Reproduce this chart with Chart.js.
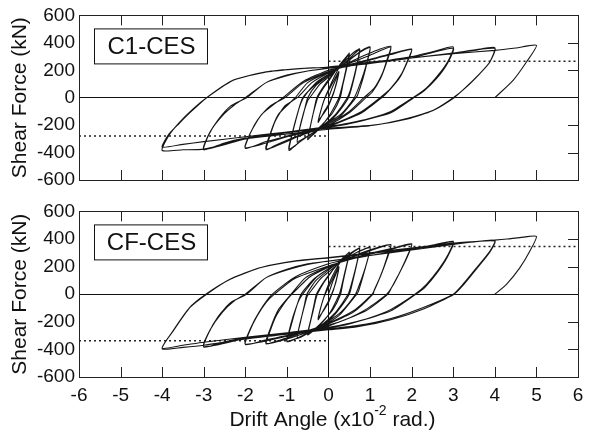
<!DOCTYPE html>
<html>
<head>
<meta charset="utf-8">
<script src="https://cdn.jsdelivr.net/npm/chart.js@4/dist/chart.umd.min.js"></script>
<style>
  body { margin: 0; background: #fff; }
  #wrap { position: relative; width: 592px; height: 431px; background: #fff; }
  canvas { position: absolute; left: 0; }
  #c1 { top: 0; }
  #c2 { top: 196px; }
</style>
</head>
<body>
<div id="wrap">
  <canvas id="c1" width="592" height="196"></canvas>
  <canvas id="c2" width="592" height="235"></canvas>
</div>
<script>
// specimen labels
var specimens = ["C1-CES", "CF-CES"];

// C1-CES hysteresis path: [drift (x10^-2 rad), shear (kN)]
var c1Path = [
  [0,0],[0.1,80],[0.2,150],[0.25,185],[0.2,120],[0.12,30],[0.08,0],[0,-60],[-0.1,-110],[-0.2,-150],[-0.25,-175],[-0.2,-110],[-0.12,-30],[-0.08,0],
  [0,50],[0.12,120],[0.25,190],[0.18,90],[0.1,20],[0,-50],[-0.12,-110],[-0.25,-180],[-0.18,-90],[-0.1,-10],
  [0,60],[0.15,160],[0.3,240],[0.45,300],[0.5,325],[0.45,250],[0.38,150],[0.3,50],[0.25,0],[0.1,-90],[0,-140],[-0.15,-200],[-0.3,-250],[-0.45,-290],[-0.5,-305],[-0.45,-230],[-0.38,-130],[-0.3,-40],[-0.26,0],
  [-0.1,80],[0,120],[0.2,210],[0.35,270],[0.5,320],[0.44,220],[0.35,100],[0.28,0],[0.1,-110],[-0.1,-180],[-0.3,-240],[-0.5,-300],[-0.43,-200],[-0.35,-90],[-0.28,0],
  [-0.1,90],[0.1,170],[0.3,240],[0.5,300],[0.65,340],[0.75,355],[0.7,270],[0.62,160],[0.52,50],[0.45,0],[0.2,-110],[0,-170],[-0.25,-230],[-0.5,-280],[-0.75,-320],[-0.7,-230],[-0.6,-110],[-0.5,-20],[-0.45,0],
  [-0.2,100],[0,150],[0.3,230],[0.55,300],[0.75,350],[0.68,230],[0.58,100],[0.48,0],[0.2,-120],[0,-180],[-0.4,-260],[-0.75,-330],[-0.68,-210],[-0.57,-80],[-0.5,0],
  [-0.3,90],[0,160],[0.3,230],[0.6,300],[0.8,345],[1,370],[0.95,290],[0.85,180],[0.72,70],[0.62,0],[0.3,-120],[0,-180],[-0.3,-240],[-0.6,-300],[-0.8,-350],[-0.95,-385],[-0.9,-300],[-0.8,-180],[-0.7,-70],[-0.6,0],
  [-0.3,110],[0,170],[0.4,250],[0.7,320],[1,365],[0.93,260],[0.82,130],[0.7,20],[0.66,0],[0.3,-130],[0,-190],[-0.5,-280],[-0.95,-375],[-0.88,-270],[-0.75,-120],[-0.62,0],
  [-0.3,100],[0,170],[0.4,240],[0.8,300],[1.2,350],[1.5,375],[1.42,290],[1.3,180],[1.1,70],[0.85,0],[0.5,-100],[0,-190],[-0.5,-250],[-1,-310],[-1.3,-350],[-1.5,-380],[-1.42,-290],[-1.28,-170],[-1.05,-60],[-0.75,0],
  [-0.4,110],[0,180],[0.5,250],[1,310],[1.5,370],[1.4,260],[1.25,140],[1.05,40],[0.9,0],[0.5,-110],[0,-200],[-0.7,-280],[-1.5,-375],[-1.4,-260],[-1.2,-120],[-0.8,0],
  [-0.5,110],[0,185],[0.5,240],[1,280],[1.5,320],[2,355],[1.9,270],[1.75,170],[1.5,70],[1.24,0],[0.8,-100],[0.3,-170],[0,-200],[-0.5,-240],[-1,-280],[-1.5,-320],[-2,-370],[-1.88,-260],[-1.7,-160],[-1.4,-60],[-1.05,0],
  [-0.6,110],[0,190],[0.5,235],[1,275],[1.5,315],[2,350],[1.88,250],[1.7,140],[1.45,50],[1.28,0],[0.8,-110],[0,-210],[-1,-285],[-2,-365],[-1.85,-240],[-1.6,-120],[-1.1,0],
  [-0.6,120],[0,200],[0.5,230],[1,250],[1.5,275],[2,300],[2.5,335],[3,370],[2.88,270],[2.65,170],[2.35,70],[2.03,0],[1.5,-100],[1,-150],[0.5,-185],[0,-210],[-1,-250],[-2,-295],[-2.5,-330],[-3,-380],[-2.88,-270],[-2.65,-160],[-2.35,-60],[-1.97,0],
  [-1.5,110],[-1,160],[-0.5,195],[0,215],[1,250],[2,290],[3,360],[2.86,250],[2.6,140],[2.3,50],[2.05,0],[1.5,-110],[0.5,-190],[0,-215],[-1,-255],[-2,-300],[-3,-375],[-2.85,-250],[-2.55,-130],[-2.25,-50],[-2,0],
  [-1.5,110],[-1,165],[-0.5,195],[0,215],[1,250],[2,290],[3,325],[3.5,345],[4,365],[3.88,260],[3.64,176],[3.32,79],[3,0],[2.52,-91],[1.88,-151],[1.08,-200],[0,-222],[-1,-250],[-2,-285],[-3,-320],[-3.5,-340],[-4,-360],[-3.85,-270],[-3.6,-190],[-3.3,-100],[-2.93,0],
  [-2.3,127],[-1.5,188],[-0.7,212],[0,222],[1,255],[2,290],[3,325],[4,360],[3.87,255],[3.62,170],[3.3,75],[3.02,0],[2.5,-95],[1.9,-155],[1,-205],[0,-230],[-1,-265],[-2,-300],[-3,-375],[-3.5,-380],[-4,-385],[-3.85,-280],[-3.6,-185],[-3.25,-80],[-2.93,0],
  [-2.29,127],[-1.49,188],[-0.69,212],[0,224],[1,260],[2,290],[3,321],[4,345],[4.5,362],[5,382],[4.76,260],[4.44,127],[4,0]
];

// CF-CES hysteresis path
var cfPath = [
  [0,0],[0.1,90],[0.2,160],[0.25,195],[0.2,120],[0.12,30],[0.08,0],[0,-60],[-0.1,-110],[-0.2,-155],[-0.25,-180],[-0.2,-110],[-0.12,-30],[-0.08,0],
  [0,50],[0.12,125],[0.25,200],[0.18,90],[0.1,20],[0,-50],[-0.12,-115],[-0.25,-185],[-0.18,-90],[-0.1,-10],
  [0,70],[0.15,165],[0.3,240],[0.45,290],[0.5,305],[0.45,230],[0.37,130],[0.3,40],[0.26,0],[0.1,-100],[0,-150],[-0.15,-205],[-0.3,-250],[-0.45,-285],[-0.5,-295],[-0.45,-220],[-0.37,-120],[-0.3,-30],[-0.27,0],
  [-0.1,90],[0,130],[0.2,215],[0.35,265],[0.5,300],[0.44,210],[0.35,90],[0.29,0],[0.1,-115],[-0.1,-185],[-0.3,-245],[-0.5,-290],[-0.43,-190],[-0.35,-80],[-0.29,0],
  [-0.1,95],[0.1,175],[0.3,240],[0.5,290],[0.65,320],[0.75,335],[0.7,250],[0.62,150],[0.52,40],[0.47,0],[0.2,-120],[0,-180],[-0.25,-240],[-0.5,-285],[-0.75,-320],[-0.7,-230],[-0.6,-110],[-0.52,-20],[-0.48,0],
  [-0.2,110],[0,160],[0.3,235],[0.55,295],[0.75,330],[0.68,220],[0.58,90],[0.5,0],[0.2,-130],[0,-190],[-0.4,-265],[-0.75,-320],[-0.68,-210],[-0.58,-80],[-0.52,0],
  [-0.3,100],[0,175],[0.3,240],[0.6,290],[0.8,320],[1,340],[0.95,260],[0.85,160],[0.72,50],[0.65,0],[0.3,-130],[0,-195],[-0.3,-250],[-0.6,-295],[-0.8,-325],[-1,-345],[-0.95,-270],[-0.85,-160],[-0.72,-50],[-0.62,0],
  [-0.3,120],[0,185],[0.4,255],[0.7,305],[1,335],[0.93,240],[0.82,120],[0.72,20],[0.68,0],[0.3,-140],[0,-205],[-0.5,-285],[-1,-340],[-0.92,-250],[-0.8,-120],[-0.66,0],
  [-0.35,110],[0,185],[0.4,250],[0.8,300],[1.2,340],[1.5,360],[1.42,280],[1.3,170],[1.15,60],[1.05,0],[0.6,-120],[0,-210],[-0.5,-265],[-1,-315],[-1.3,-345],[-1.5,-360],[-1.42,-280],[-1.28,-170],[-1.05,-60],[-0.88,0],
  [-0.45,125],[0,195],[0.5,260],[1,315],[1.5,358],[1.4,250],[1.25,130],[1.1,30],[1.07,0],[0.6,-130],[0,-215],[-0.7,-295],[-1.5,-358],[-1.4,-250],[-1.2,-110],[-0.9,0],
  [-0.55,120],[0,200],[0.5,255],[1,295],[1.5,330],[2,365],[1.9,280],[1.75,180],[1.58,80],[1.4,0],[0.9,-110],[0.4,-185],[0,-225],[-0.5,-265],[-1,-300],[-1.5,-330],[-2,-365],[-1.9,-270],[-1.72,-160],[-1.5,-60],[-1.3,0],
  [-0.8,115],[0,205],[0.5,250],[1,290],[1.5,325],[2,362],[1.88,260],[1.7,150],[1.52,50],[1.43,0],[0.9,-120],[0,-230],[-1,-305],[-2,-362],[-1.88,-250],[-1.65,-120],[-1.35,0],
  [-0.8,125],[0,220],[0.5,255],[1,280],[1.5,305],[2,330],[2.5,355],[3,383],[2.88,290],[2.65,180],[2.35,70],[2.08,0],[1.5,-110],[1,-170],[0.5,-210],[0,-240],[-1,-280],[-2,-315],[-2.5,-345],[-3,-384],[-2.88,-280],[-2.65,-160],[-2.35,-60],[-1.97,0],
  [-1.5,120],[-1,180],[-0.5,220],[0,240],[1,280],[2,325],[3,378],[2.86,270],[2.6,150],[2.32,50],[2.1,0],[1.5,-120],[0.5,-215],[0,-245],[-1,-285],[-2,-320],[-3,-380],[-2.85,-260],[-2.55,-130],[-2.25,-45],[-2,0],
  [-1.5,120],[-1,175],[-0.5,215],[0,240],[1,280],[2,320],[3,360],[3.5,378],[4,388],[3.88,311],[3.56,191],[3.24,74],[3,0],[2.28,-96],[1.48,-178],[0.68,-228],[0,-252],[-1,-280],[-2,-312],[-3,-348],[-3.5,-370],[-4,-390],[-3.73,-264],[-3.33,-96],[-2.93,0],
  [-2.37,108],[-1.65,191],[-0.76,240],[0,263],[1,295],[2,330],[3,365],[4,385],[3.87,300],[3.55,180],[3.25,70],[3.02,0],[2.3,-105],[1.5,-185],[0.7,-235],[0,-258],[-1,-290],[-2,-325],[-3,-370],[-3.5,-385],[-4,-396],[-3.75,-270],[-3.35,-100],[-2.95,0],
  [-2.35,110],[-1.6,195],[-0.75,243],[0,265],[1,300],[2,335],[3,370],[4,392],[4.3,400],[4.6,410],[5,419],[4.84,311],[4.6,191],[4.28,72],[4,0]
];

// dotted strength lines
var c1PosLine = [[0,265],[6,265]];
var c1NegLine = [[-6,-280],[0,-280]];
var cfPosLine = [[0,345],[6,345]];
var cfNegLine = [[-6,-338],[0,-338]];

var FONT = "'Liberation Sans', Arial, Helvetica, sans-serif";

function pts(arr){
  return arr.map(function(p){ return {x: p[0], y: p[1]}; });
}

// frame, inward ticks, specimen box, x title with superscript
var framePlugin = {
  id: 'frame',
  afterDraw: function(chart, args, opts){
    var ctx = chart.ctx, a = chart.chartArea;
    var xs = chart.scales.x, ys = chart.scales.y;
    ctx.save();
    ctx.strokeStyle = '#222';
    ctx.lineWidth = 1;
    ctx.strokeRect(Math.round(a.left) + 0.5, Math.round(a.top) + 0.5, Math.round(a.right - a.left), Math.round(a.bottom - a.top));
    ctx.beginPath();
    xs.ticks.forEach(function(t){
      if (t.value === 0 || t.value === -6 || t.value === 6) return;
      var px = Math.round(xs.getPixelForValue(t.value)) + 0.5;
      ctx.moveTo(px, a.top); ctx.lineTo(px, a.top + 10);
      ctx.moveTo(px, a.bottom); ctx.lineTo(px, a.bottom - 10);
    });
    ys.ticks.forEach(function(t){
      if (t.value === 0 || Math.abs(t.value) === 600) return;
      var py = Math.round(ys.getPixelForValue(t.value)) + 0.5;
      ctx.moveTo(a.right, py); ctx.lineTo(a.right - 10, py);
    });
    ctx.stroke();

    // specimen label box
    var bx = a.left + 15, by = a.top + 13, bw = 113, bh = 35;
    ctx.fillStyle = '#fff';
    ctx.fillRect(bx, by, bw, bh);
    ctx.strokeStyle = '#111';
    ctx.strokeRect(bx + 0.5, by + 0.5, bw, bh);
    ctx.fillStyle = '#111';
    ctx.font = '24px ' + FONT;
    ctx.textAlign = 'center';
    ctx.textBaseline = 'middle';
    ctx.fillText(opts.label, bx + bw / 2 + 1, by + bh / 2 + 1);

    if (opts.xTitle) {
      var cx = (a.left + a.right) / 2 + 4, ty = a.bottom + 43;
      var p1 = 'Drift Angle (x10', p2 = '-2', p3 = ' rad.)';
      ctx.textAlign = 'left';
      ctx.textBaseline = 'middle';
      ctx.font = '21px ' + FONT;
      var w1 = ctx.measureText(p1).width, w3 = ctx.measureText(p3).width;
      ctx.font = '14px ' + FONT;
      var w2 = ctx.measureText(p2).width;
      var x0 = cx - (w1 + w2 + w3) / 2;
      ctx.font = '21px ' + FONT;
      ctx.fillText(p1, x0, ty);
      ctx.font = '14px ' + FONT;
      ctx.fillText(p2, x0 + w1, ty - 9);
      ctx.font = '21px ' + FONT;
      ctx.fillText(p3, x0 + w1 + w2, ty);
    }
    ctx.restore();
  }
};

function zeroLine(c){
  return c.tick && c.tick.value === 0 ? '#111' : 'rgba(0,0,0,0)';
}

function makeChart(id, path, posLine, negLine, label, bottom){
  return new Chart(id, {
    type: 'scatter',
    data: {
      datasets: [{
        data: pts(path),
        showLine: true,
        borderColor: '#151515',
        borderWidth: 1.1,
        pointRadius: 0,
        tension: 0.2
      }, {
        data: pts(posLine),
        showLine: true,
        borderColor: '#222',
        borderWidth: 1.5,
        borderDash: [2, 3],
        pointRadius: 0
      }, {
        data: pts(negLine),
        showLine: true,
        borderColor: '#222',
        borderWidth: 1.5,
        borderDash: [2, 3],
        pointRadius: 0
      }]
    },
    options: {
      responsive: false,
      animation: false,
      layout: { padding: { left: 0, right: 14, top: bottom ? 14 : 15, bottom: 0 } },
      plugins: {
        legend: { display: false },
        tooltip: { enabled: false },
        frame: { label: label, xTitle: bottom }
      },
      scales: {
        x: {
          type: 'linear',
          min: -6, max: 6,
          ticks: { stepSize: 1, display: bottom, padding: 7, color: '#111', font: { family: FONT, size: 19 } },
          grid: { color: zeroLine, drawTicks: false, lineWidth: 1 },
          border: { display: false },
          afterFit: function(s){ s.height = bottom ? 54 : 16; }
        },
        y: {
          min: -600, max: 600,
          ticks: { stepSize: 200, padding: 4, color: '#111', font: { family: FONT, size: 19 } },
          grid: { color: zeroLine, drawTicks: false, lineWidth: 1 },
          border: { display: false },
          title: { display: true, text: 'Shear Force (kN)', color: '#111', font: { family: FONT, size: 21 }, padding: { top: 8, bottom: 0 } },
          afterFit: function(s){ s.width = 79; }
        }
      }
    },
    plugins: [framePlugin]
  });
}

makeChart('c1', c1Path, c1PosLine, c1NegLine, specimens[0], false);
makeChart('c2', cfPath, cfPosLine, cfNegLine, specimens[1], true);
</script>
</body>
</html>
